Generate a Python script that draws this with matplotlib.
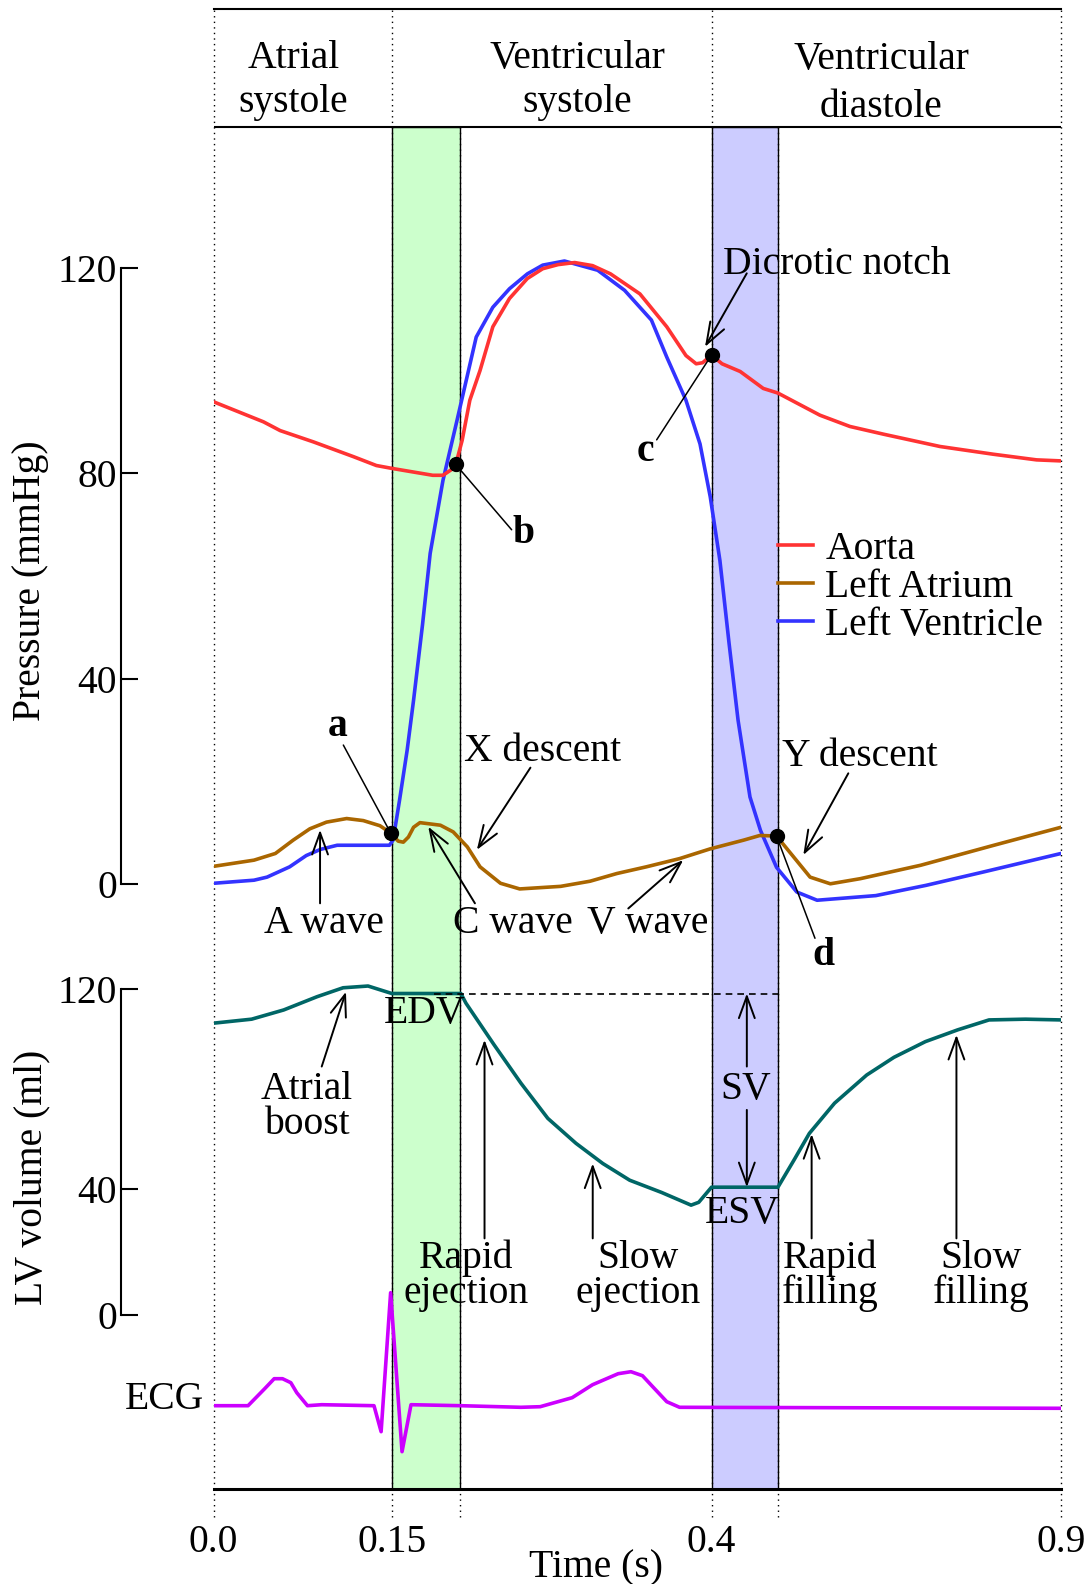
import numpy as np
import matplotlib
matplotlib.use('Agg')
import matplotlib.pyplot as plt
from matplotlib import transforms

plt.rcParams['font.family'] = ['Liberation Serif', 'DejaVu Serif']
plt.rcParams['font.size'] = 28.5

# ---- data (time in s) ----
AORTA_T = [0.0, 0.042, 0.056, 0.084, 0.118, 0.137, 0.151, 0.182, 0.190, 0.196,
           0.200, 0.205, 0.211, 0.219, 0.229, 0.242, 0.256, 0.268, 0.280, 0.293,
           0.307, 0.321, 0.344, 0.365, 0.380, 0.388, 0.393, 0.400, 0.415, 0.441,
           0.474, 0.495, 0.555, 0.598, 0.646, 0.727, 0.803, 0.865, 0.900]
AORTA_P = [93.9, 90.0, 88.3, 86.1, 83.2, 81.5, 80.9, 79.6, 79.6, 80.6,
           81.7, 86.4, 94.2, 100.0, 108.5, 114.0, 117.9, 119.8, 120.6, 121.0,
           120.4, 118.8, 114.9, 108.5, 102.9, 101.3, 101.5, 103.0, 101.3, 99.8,
           96.5, 95.6, 91.3, 89.1, 87.6, 85.2, 83.7, 82.6, 82.4]

LV_T = [0.0, 0.034, 0.045, 0.064, 0.078, 0.090, 0.104, 0.148, 0.151, 0.156,
        0.162, 0.167, 0.174, 0.180, 0.190, 0.201, 0.216, 0.229, 0.242, 0.256, 0.268,
        0.285, 0.311, 0.332, 0.353, 0.365, 0.380, 0.391, 0.399, 0.412, 0.425,
        0.438, 0.455, 0.470, 0.493, 0.522, 0.551, 0.635, 0.707, 0.789, 0.900]
LV_P = [0.2, 0.8, 1.4, 3.4, 5.6, 6.8, 7.6, 7.6, 8.6, 16.3,
        26.1, 35.8, 50.5, 64.4, 78.6, 90.3, 106.5, 112.3, 115.9, 118.8, 120.5,
        121.3, 119.5, 115.6, 109.8, 102.6, 94.2, 85.7, 75.4, 63.0, 47.0,
        31.9, 17.0, 10.5, 3.3, -1.5, -3.1, -2.2, -0.2, 2.4, 6.0]

LA_T = [0.0, 0.034, 0.052, 0.067, 0.081, 0.095, 0.112, 0.126, 0.140, 0.149,
        0.155, 0.159, 0.163, 0.167, 0.172, 0.188, 0.198, 0.209, 0.219, 0.235,
        0.250, 0.282, 0.305, 0.326, 0.349, 0.375, 0.399, 0.446, 0.469, 0.493,
        0.541, 0.570, 0.613, 0.699, 0.804, 0.900]
LA_P = [3.5, 4.7, 6.0, 8.6, 10.8, 12.1, 12.8, 12.4, 11.4, 10.0,
        8.4, 8.2, 9.2, 11.1, 12.0, 11.5, 10.2, 7.3, 3.4, 0.2,
        -0.9, -0.4, 0.6, 2.1, 3.4, 5.0, 6.9, 8.6, 9.5, 9.4,
        1.4, 0.1, 1.1, 3.7, 7.6, 11.1]

VOL_T = [0.0, 0.032, 0.059, 0.087, 0.109, 0.130, 0.150, 0.204, 0.208, 0.230,
         0.251, 0.272, 0.294, 0.315, 0.336, 0.361, 0.384, 0.390, 0.400, 0.495,
         0.518, 0.540, 0.576, 0.622, 0.661, 0.706, 0.752, 0.797, 0.849, 0.900]
VOL_ML = [106.4, 108.0, 111.7, 117.0, 120.6, 121.3, 118.3, 118.3, 114.4, 97.7,
          82.3, 68.2, 58.2, 50.1, 43.4, 38.8, 34.8, 35.7, 40.6, 40.6,
          51.5, 62.2, 74.3, 85.6, 92.7, 99.0, 103.7, 107.7, 108.0, 107.7]
EDV = 118.3
ESV = 40.6

ECG_T = [0.0, 0.029, 0.043, 0.051, 0.058, 0.065, 0.070, 0.079, 0.091, 0.135,
         0.141, 0.149, 0.158, 0.165, 0.204, 0.251, 0.266, 0.291, 0.307, 0.327,
         0.337, 0.346, 0.354, 0.365, 0.375, 0.900]
ECG_MV = [0.0, 0.0, 0.17, 0.27, 0.27, 0.23, 0.13, 0.0, 0.01, 0.0,
          -0.26, 1.13, -0.46, 0.01, 0.0, -0.016, -0.01, 0.08, 0.21, 0.32,
          0.34, 0.30, 0.19, 0.04, -0.016, -0.026]

# points a, b, c, d
POINT_T = [0.149, 0.200, 0.400, 0.493]
POINT_P = [10.0, 81.7, 103.0, 9.4]
POINT_LABELS = ['a', 'b', 'c', 'd']

# phases
ISO_CONTRACTION = (0.15, 0.2036)
ISO_RELAXATION = (0.40, 0.4947)
PHASE_EDGES = [0.0, 0.15, 0.40, 0.90]
TIME_TICKS = [0.0, 0.15, 0.4, 0.9]
TIME_LABELS = ['0.0', '0.15', '0.4', '0.9']
PRESSURE_TICKS = [0, 40, 80, 120]
VOLUME_TICKS = [0, 40, 120]

# the time axis of the reference is not linear: ticks sit at these fractions
TICK_POS = [0.0, 0.2103, 0.5876, 1.0]
VOL_POS = [0.0, 126.6, 326.0]


def warp(x, xp, fp):
    x = np.asarray(x, dtype=float)
    y = np.interp(x, xp, fp)
    y = np.where(x < xp[0], fp[0] + (x - xp[0]) * (fp[1] - fp[0]) / (xp[1] - xp[0]), y)
    y = np.where(x > xp[-1], fp[-1] + (x - xp[-1]) * (fp[-1] - fp[-2]) / (xp[-1] - xp[-2]), y)
    return y


time_scale = (lambda t: warp(t, TIME_TICKS, TICK_POS), lambda u: warp(u, TICK_POS, TIME_TICKS))
vol_scale = (lambda v: warp(v, VOLUME_TICKS, VOL_POS), lambda u: warp(u, VOL_POS, VOLUME_TICKS))

W, H = 1092, 1584
X0, X1 = 213.6, 1061.0


def box(top, bottom):
    return [X0 / W, 1 - bottom / H, (X1 - X0) / W, (bottom - top) / H]


fig = plt.figure(figsize=(W / 100, H / 100), dpi=100)
ax_bg = fig.add_axes(box(9.3, 1489.3))
ax_p = fig.add_axes(box(242.0, 910.0))
ax_v = fig.add_axes(box(976.8, 1324.8))
ax_e = fig.add_axes(box(1275.7, 1465.7))

for ax in (ax_bg, ax_p, ax_v, ax_e):
    ax.set_xscale('function', functions=time_scale)
    ax.set_xlim(0, 0.9)
    ax.patch.set_visible(False)
    for s in ax.spines.values():
        s.set_visible(False)
    ax.tick_params(bottom=False, labelbottom=False, left=False, labelleft=False)

# ---- background: header, bands, dotted phase lines, time axis ----
HEAD = 1 - (127 - 9.3) / 1480
ax_bg.set_ylim(0, 1)
ax_bg.axvspan(*ISO_CONTRACTION, ymin=0, ymax=HEAD, fc='#ccffcc', ec='black', lw=1.0, zorder=0)
ax_bg.axvspan(*ISO_RELAXATION, ymin=0, ymax=HEAD, fc='#ccccff', ec='black', lw=1.0, zorder=0)
for t in PHASE_EDGES:
    ax_bg.axvline(t, ymin=-0.0187, ymax=1, color='k', lw=1.0, ls=(0, (1, 3)), clip_on=False)
for t in (ISO_CONTRACTION[1], ISO_RELAXATION[1]):
    ax_bg.axvline(t, ymin=-0.0187, ymax=HEAD, color='k', lw=1.0, ls=(0, (1, 3)), clip_on=False)
ax_bg.axhline(1.0, color='k', lw=1.5, clip_on=False)
ax_bg.axhline(HEAD, color='k', lw=1.5)

hdr = transforms.blended_transform_factory(ax_bg.transData, ax_bg.transAxes)
ax_bg.text(0.067, 0.9518, 'Atrial\nsystole', transform=hdr, ha='center', va='center', linespacing=1.23)
ax_bg.text(0.2948, 0.9518, 'Ventricular\nsystole', transform=hdr, ha='center', va='center', linespacing=1.23)
ax_bg.text(0.6425, 0.9500, 'Ventricular\ndiastole', transform=hdr, ha='center', va='center', linespacing=1.40)

ax_bg.spines['bottom'].set_visible(True)
ax_bg.spines['bottom'].set_linewidth(2.2)
ax_bg.set_xticks(TIME_TICKS, TIME_LABELS)
ax_bg.set_xticks([TIME_TICKS[0], TIME_TICKS[-1]], minor=True)
ax_bg.tick_params(axis='x', which='major', bottom=True, labelbottom=True, length=0, pad=25)
ax_bg.tick_params(axis='x', which='minor', bottom=True, labelbottom=False, length=20,
                  width=2.2, direction='inout')
fig.text(596 / W, 1 - 1568 / H, 'Time (s)', ha='center', va='center')

# ---- pressures ----
ax_p.set_ylim(-5, 125)
lv, = ax_p.plot(LV_T, LV_P, color='#3333ff', lw=2.6, label='Left Ventricle')
la, = ax_p.plot(LA_T, LA_P, color='#aa6600', lw=2.6, label='Left Atrium')
ao, = ax_p.plot(AORTA_T, AORTA_P, color='#ff3333', lw=2.6, label='Aorta')
ax_p.plot(POINT_T, POINT_P, 'o', color='k', ms=10, zorder=5, clip_on=False)

for ax, ticks in ((ax_p, PRESSURE_TICKS), (ax_v, VOLUME_TICKS)):
    sp = ax.spines['left']
    sp.set_visible(True)
    sp.set_position(('outward', 66.7))
    sp.set_bounds(ticks[0], ticks[-1])
    sp.set_linewidth(1.5)
    ax.set_yticks(ticks)
    ax.tick_params(axis='y', left=True, labelleft=True, direction='in', length=12, width=1.5, pad=3)

ax_p.legend(handles=[ao, la, lv], loc='upper left', bbox_to_anchor=(0.4947, 68.8),
            bbox_transform=ax_p.transData, frameon=False, borderpad=0, borderaxespad=0,
            handlelength=0.9, handletextpad=0.3, labelspacing=0.03)

arrow = dict(arrowstyle='->,head_length=0.55,head_width=0.2', color='k', lw=1.4, shrinkA=0, shrinkB=0)
stick = dict(arrowstyle='-', color='k', lw=1.1, shrinkA=0, shrinkB=0)

label_pos = [(0.1041, 30.7), (0.2528, 68.3), (0.348, 84.2), (0.560, -13.8)]
line_from = [(0.1092, 27.1), (0.2437, 69.0), (0.3571, 86.5), (0.548, -10.5)]
for lab, (tx, ty), tail, x, y in zip(POINT_LABELS, label_pos, line_from, POINT_T, POINT_P):
    ax_p.text(tx, ty, lab, ha='center', va='center', fontweight='bold')
    ax_p.annotate('', xy=(x, y), xytext=tail, arrowprops=stick)

ax_p.text(0.4166, 120.6, 'Dicrotic notch', ha='left', va='center')
ax_p.annotate('', xy=(0.3949, 104.6), xytext=(0.4504, 118.9), arrowprops=arrow)
ax_p.text(0.2061, 25.8, 'X descent', ha='left', va='center')
ax_p.annotate('', xy=(0.2165, 6.7), xytext=(0.2584, 22.7), arrowprops=arrow)
ax_p.text(0.5004, 24.9, 'Y descent', ha='left', va='center')
ax_p.annotate('', xy=(0.5313, 5.7), xytext=(0.5957, 21.6), arrowprops=arrow)
ax_p.text(0.0927, -7.6, 'A wave', ha='center', va='center')
ax_p.annotate('', xy=(0.0896, 10.6), xytext=(0.0896, -3.7), arrowprops=arrow)
ax_p.text(0.2445, -7.6, 'C wave', ha='center', va='center')
ax_p.annotate('', xy=(0.1785, 11.2), xytext=(0.215, -3.7), arrowprops=arrow)
ax_p.text(0.350, -7.6, 'V wave', ha='center', va='center')
ax_p.annotate('', xy=(0.3779, 4.7), xytext=(0.3349, -4.7), arrowprops=arrow)

fig.text(30.3 / W, 1 - 581 / H, 'Pressure (mmHg)', rotation=90, ha='center', va='center')

# ---- LV volume ----
ax_v.set_yscale('function', functions=vol_scale)
ax_v.set_ylim(-3, 125)
ax_v.set_yticks(VOLUME_TICKS)
ax_v.plot(VOL_T, VOL_ML, color='#006666', lw=2.6)
ax_v.hlines(EDV, 0.183, ISO_RELAXATION[1], colors='k', linestyles=(0, (4, 3)), lw=1.2)

ax_v.text(0.176, 110.4, 'EDV', ha='center', va='center')
ax_v.text(0.4443, 32.2, 'ESV', ha='center', va='center')
ax_v.text(0.449, 79.9, 'SV', ha='center', va='center')
ax_v.annotate('', xy=(0.4505, EDV), xytext=(0.4505, 89.0), arrowprops=arrow)
ax_v.annotate('', xy=(0.4505, ESV), xytext=(0.4505, 71.6), arrowprops=arrow)
ax_v.text(0.0784, 72.8, 'Atrial\nboost', ha='center', va='center', linespacing=0.92)
ax_v.annotate('', xy=(0.1114, 119.0), xytext=(0.091, 89.0), arrowprops=arrow)

phase_notes = [('Rapid\nejection', 0.2083, 0.2225, 99.7),
               ('Slow\nejection', 0.3423, 0.3071, 50.1),
               ('Rapid\nfilling', 0.5693, 0.5432, 61.9),
               ('Slow\nfilling', 0.7854, 0.7504, 101.7)]
for txt, tx, ax_t, tip in phase_notes:
    ax_v.text(tx, 12.5, txt, ha='center', va='center', linespacing=0.92)
    ax_v.annotate('', xy=(ax_t, tip), xytext=(ax_t, 24.3), arrowprops=arrow)

fig.text(32.3 / W, 1 - 1177 / H, 'LV volume (ml)', rotation=90, ha='center', va='center')

# ---- ECG ----
ax_e.set_ylim(-0.6, 1.3)
ax_e.plot(ECG_T, ECG_MV, color='#cc00ff', lw=2.6)
ecg_tr = transforms.blended_transform_factory(ax_e.transAxes, ax_e.transData)
ax_e.text(-0.011, 0.06, 'ECG', transform=ecg_tr, ha='right', va='center')

fig.savefig('out.png', dpi=100)
